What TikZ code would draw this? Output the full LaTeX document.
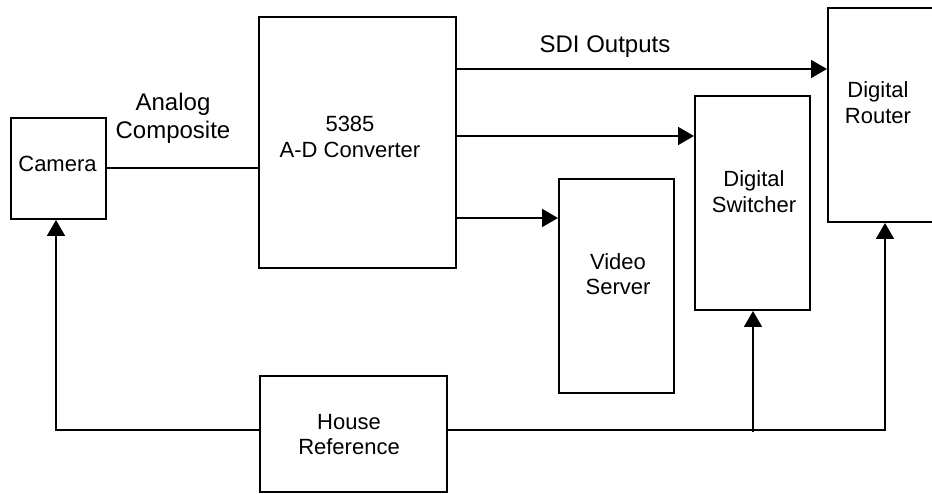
\documentclass[tikz,border=0pt]{standalone}
\usepackage{fontspec}
\setmainfont{Liberation Sans}
\usetikzlibrary{arrows.meta}
\begin{document}
\begin{tikzpicture}[x=1pt,y=1pt,
  box/.style={draw, line width=2pt, inner sep=0pt},
  lbl/.style={align=center, inner sep=0pt, font=\fontsize{22}{25.5}\selectfont},
  elbl/.style={align=center, inner sep=0pt, font=\fontsize{24}{28}\selectfont},
  conn/.style={line width=1.8pt},
  arr/.style={conn, -{Triangle[length=16pt,width=18pt]}}]
\useasboundingbox (0,0) rectangle (932,494);
\clip (0,0) rectangle (932,494);
% boxes
\node[box, minimum width=95, minimum height=101] (cam) at (58.5,325.5) {};
\node[box, minimum width=197, minimum height=251] (ad) at (357.5,351.5) {};
\node[box, minimum width=132, minimum height=214] (rt) at (894,379) {};
\node[box, minimum width=115, minimum height=214] (sw) at (752.5,291) {};
\node[box, minimum width=115, minimum height=214] (vs) at (616.5,208) {};
\node[box, minimum width=187, minimum height=116] (hr) at (353.5,60) {};
% texts
\node[lbl] (camT) at (57.5,330) {Camera};
\node[lbl] (adT) at (350,357) {5385\\A-D Converter};
\node[lbl] (rtT) at (878,391.5) {Digital\\Router};
\node[lbl] (swT) at (754,302.5) {Digital\\Switcher};
\node[lbl] (vsT) at (618,220) {Video\\Server};
\node[lbl] (hrT) at (349,59.5) {House\\Reference};
\node[elbl] (acT) at (173,376) {Analog\\Composite};
\node[elbl] (sdiT) at (605,447) {SDI Outputs};
% connectors
\coordinate (y0) at (0,326);
\draw[conn] (cam.east |- y0) -- (ad.west |- y0);
\coordinate (y1) at (0,425);
\coordinate (y2) at (0,358);
\coordinate (y3) at (0,276);
\draw[arr] (ad.east |- y1) -- (rt.west |- y1);
\draw[arr] (ad.east |- y2) -- (sw.west |- y2);
\draw[arr] (ad.east |- y3) -- (vs.west |- y3);
\coordinate (yh) at (0,64);
\coordinate (cl) at (56,64);
\coordinate (rr) at (885,64);
\coordinate (br) at (753,62);
\draw[arr] (hr.west |- yh) -- (cl) -- (cl |- cam.south);
\draw[arr] (hr.east |- yh) -- (rr) -- (rr |- rt.south);
\draw[arr] (br) -- (br |- sw.south);
\end{tikzpicture}
\end{document}
